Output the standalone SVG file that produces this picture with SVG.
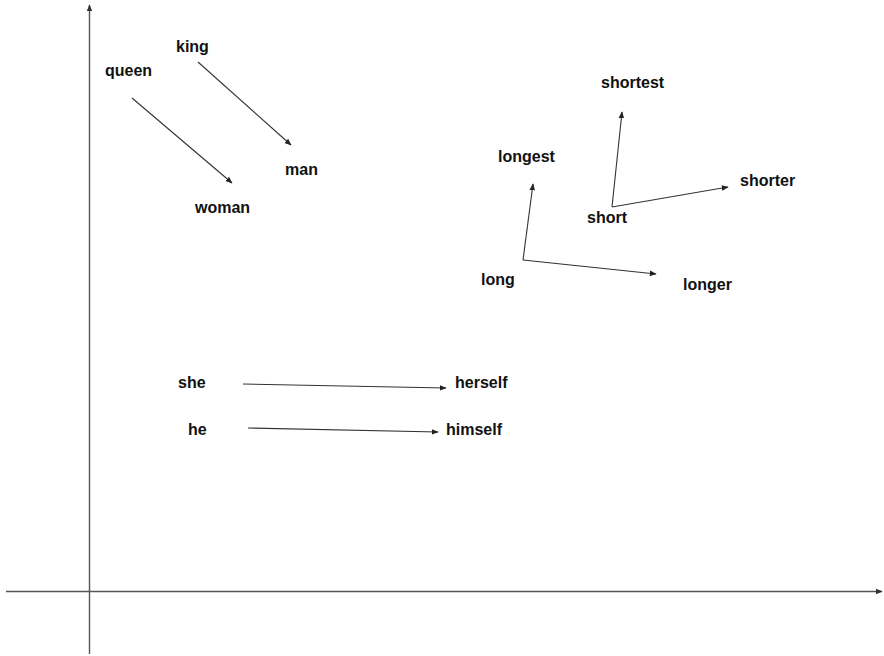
<svg xmlns="http://www.w3.org/2000/svg" width="884" height="656" viewBox="0 0 884 656">
  <style>
    .word { font-family: "Liberation Sans", Arial, sans-serif; font-size: 16px; font-weight: bold; fill: #111; }
    .vec { stroke: #333; stroke-width: 1.1; fill: none; marker-end: url(#head); }
    .axis { stroke: #555; stroke-width: 1.4; fill: none; marker-end: url(#axhead); }
  </style>
  <defs>
    <marker id="head" viewBox="0 0 10 10" refX="9" refY="5" markerWidth="7" markerHeight="7" markerUnits="userSpaceOnUse" orient="auto">
      <path d="M0,1 L10,5 L0,9 Z" fill="#222"/>
    </marker>
    <marker id="axhead" viewBox="0 0 10 10" refX="9" refY="5" markerWidth="7" markerHeight="7" markerUnits="userSpaceOnUse" orient="auto">
      <path d="M0,1 L10,5 L0,9 Z" fill="#333"/>
    </marker>
  </defs>
  <rect width="884" height="656" fill="#fff"/>

  <!-- coordinate axes -->
  <g id="axes">
    <line class="axis" x1="89.5" y1="654" x2="89.5" y2="5"/>
    <line class="axis" x1="6" y1="591.5" x2="882" y2="591.5"/>
  </g>

  <!-- word vectors -->
  <g id="connectors">
    <line class="vec" x1="198" y1="62" x2="291" y2="145"/>
    <line class="vec" x1="132" y1="98" x2="232" y2="183"/>
    <line class="vec" x1="523" y1="260" x2="533" y2="184"/>
    <line class="vec" x1="523" y1="260" x2="656" y2="274"/>
    <line class="vec" x1="612" y1="207" x2="622" y2="112"/>
    <line class="vec" x1="612" y1="207" x2="728" y2="187"/>
    <line class="vec" x1="243" y1="384" x2="446" y2="388"/>
    <line class="vec" x1="248" y1="428" x2="438" y2="432"/>
  </g>

  <g id="king"><text class="word" x="176" y="52">king</text></g>
  <g id="queen"><text class="word" x="105" y="76">queen</text></g>
  <g id="man"><text class="word" x="285" y="175">man</text></g>
  <g id="woman"><text class="word" x="195" y="213">woman</text></g>
  <g id="shortest"><text class="word" x="601" y="88">shortest</text></g>
  <g id="longest"><text class="word" x="498" y="162">longest</text></g>
  <g id="shorter"><text class="word" x="740" y="186">shorter</text></g>
  <g id="short"><text class="word" x="587" y="223">short</text></g>
  <g id="long"><text class="word" x="481" y="285">long</text></g>
  <g id="longer"><text class="word" x="683" y="290">longer</text></g>
  <g id="she"><text class="word" x="178" y="388">she</text></g>
  <g id="herself"><text class="word" x="455" y="388">herself</text></g>
  <g id="he"><text class="word" x="188" y="435">he</text></g>
  <g id="himself"><text class="word" x="446" y="435">himself</text></g>
</svg>
